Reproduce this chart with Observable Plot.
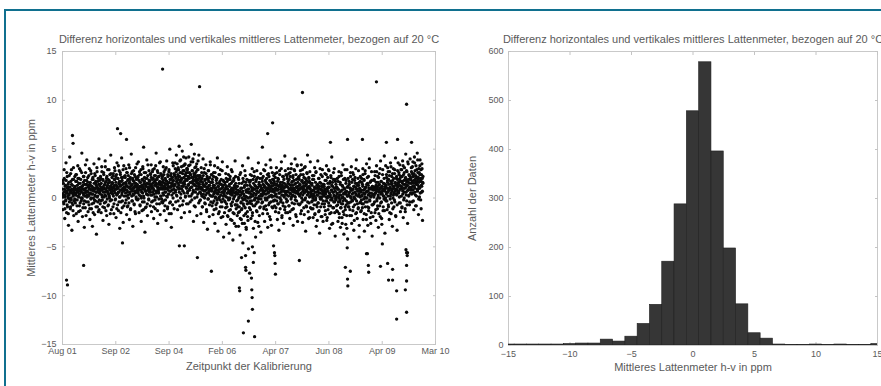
<!DOCTYPE html>
<html>
<head>
<meta charset="utf-8">
<script src="https://cdn.jsdelivr.net/npm/d3@7"></script>
<script src="https://cdn.jsdelivr.net/npm/@observablehq/plot@0.6"></script>
<style>
  html, body { margin: 0; padding: 0; background: #fff; overflow: hidden; }
  #wrap { position: relative; width: 881px; height: 386px; overflow: hidden; background: #fff; font-family: "Liberation Sans", Arial, sans-serif; }
  #frame { position: absolute; left: 4px; top: 9px; right: -10px; bottom: -10px; border-top: 2px solid #10708f; border-left: 2px solid #10708f; }
  #left { position: absolute; left: 0; top: 0; width: 450px; height: 386px; }
  #right { position: absolute; left: 440px; top: 0; width: 441px; height: 386px; overflow: hidden; }
  #left svg, #right svg { max-width: none !important; }
</style>
</head>
<body>
<div id="wrap"><div id="frame"></div><div id="left"></div><div id="right"></div></div>
<script>
// ---------- data ----------
const titleText = "Differenz horizontales und vertikales mittleres Lattenmeter, bezogen auf 20 °C";
const leftYLabel = "Mittleres Lattenmeter h-v in ppm";
const leftXLabel = "Zeitpunkt der Kalibrierung";
const rightYLabel = "Anzahl der Daten";
const rightXLabel = "Mittleres Lattenmeter h-v in ppm";

const dateTickLabels = ["Aug 01", "Sep 02", "Sep 04", "Feb 06", "Apr 07", "Jun 08", "Apr 09", "Mar 10"];
const sampleCount = 2400; // x-axis span in sample numbers
const yTicksLeft = [-15, -10, -5, 0, 5, 10, 15];

// h-v values (ppm) of the even-numbered calibrations, in sample order
const bandY = [
0.4,-1.2,1.8,0.2,-0.6,2.9,0.9,-2.1,0.1,1.3,-0.3,3.6,0.7,-1.5,0.5,2.2,-0.9,1.1,0.0,-2.8,1.6,0.3,-0.4,4.2,0.8,-1.1,2.5,0.6,-0.2,1.4,-3.3,0.9,1.9,-0.7,0.2,3.1,-1.8,0.5,1.0,-0.1,
1.2,-0.5,0.3,2.4,-1.6,0.8,1.7,-0.2,0.6,3.3,-2.4,1.0,0.1,2.0,-0.8,0.4,1.5,-1.3,2.8,0.7,-0.3,1.1,4.6,0.0,-1.9,1.3,0.5,2.2,-0.6,0.9,-3.0,1.8,0.2,-1.0,2.6,0.6,1.4,-0.4,3.9,0.3,
0.7,2.1,-1.4,0.2,1.3,-0.7,3.0,0.5,-2.2,1.6,0.9,-0.1,2.5,-1.1,0.4,1.2,-2.9,0.8,1.9,0.0,-0.5,3.5,1.0,-1.7,0.3,2.3,-0.3,1.5,0.6,-3.7,1.1,2.7,-0.9,0.2,1.7,-1.4,0.9,4.0,-0.2,0.6,
1.4,-0.6,2.2,0.8,-1.5,1.0,3.2,0.3,-0.2,1.9,-2.3,0.9,2.6,0.1,1.3,-1.0,0.6,3.8,1.6,-0.4,0.2,2.0,-1.8,1.1,0.7,2.9,-0.8,1.5,0.4,-2.7,1.8,0.0,2.4,-0.3,1.2,4.4,0.5,-1.2,1.0,2.1,
1.6,0.4,-0.9,2.5,1.1,-1.6,0.7,3.1,1.9,-0.2,0.9,2.2,-2.0,1.3,0.3,3.6,1.0,-0.7,2.0,0.6,-1.3,1.5,2.8,0.1,-3.1,1.2,2.4,0.8,-0.4,1.7,4.1,0.5,-1.0,2.1,1.4,-2.5,0.9,3.3,0.2,1.1,
0.8,2.3,-0.5,1.5,3.0,0.2,-1.7,1.2,2.6,0.6,-0.8,1.9,0.0,3.4,1.1,-2.2,1.6,0.4,2.1,-1.1,0.9,4.5,1.3,-0.3,2.7,0.7,-2.9,1.8,0.3,1.0,-0.6,2.4,1.5,-1.4,0.5,3.1,1.2,-0.1,2.0,0.8,
1.3,-0.2,2.1,0.5,3.7,1.0,-1.5,0.8,2.4,-0.7,1.6,0.2,2.9,-2.4,1.1,0.6,1.9,-0.4,3.2,0.9,-1.2,1.4,0.0,2.6,1.7,-3.5,0.7,2.0,1.2,-0.9,0.4,3.9,1.5,-1.8,2.3,0.3,1.0,-0.1,2.8,1.4,
1.8,0.6,-0.8,2.4,1.2,3.4,-1.4,1.0,0.3,2.7,1.5,-0.3,2.0,-2.1,0.8,3.0,1.7,0.1,-1.1,2.3,1.3,4.6,0.5,-0.6,1.9,2.8,-2.6,1.1,0.7,2.2,-0.1,1.6,3.6,0.9,-1.7,1.4,2.5,0.2,1.0,-0.4,
2.0,0.9,-0.5,1.6,3.2,0.3,2.4,-1.3,1.2,0.6,2.9,-0.2,1.8,-2.3,1.0,3.8,1.4,0.1,-0.9,2.2,1.5,0.4,2.7,-1.6,1.1,5.0,0.7,-0.4,1.9,2.5,-3.0,1.3,0.8,2.1,-0.7,1.7,3.3,0.5,1.2,-1.1,
2.4,1.3,3.6,0.6,-0.4,2.1,4.4,1.7,0.2,2.9,-1.2,1.5,3.1,2.2,0.9,5.3,1.0,-0.8,2.6,1.8,3.9,0.4,-2.0,2.0,1.2,4.8,2.5,0.7,-0.3,3.3,1.6,2.8,-1.5,1.4,3.5,0.1,2.3,4.1,1.1,-0.6,
1.9,3.0,0.5,2.6,-0.6,1.4,4.2,2.1,0.8,-1.4,3.4,1.6,2.4,0.2,5.5,1.1,-0.2,2.8,1.7,3.7,0.6,-2.4,2.2,1.3,4.5,0.0,2.5,-0.9,1.8,3.2,0.9,2.0,-1.8,1.5,2.9,0.4,3.8,1.2,-0.5,2.3,
1.1,-0.3,2.3,0.6,1.7,-1.6,3.1,0.9,0.2,2.0,-0.9,1.4,4.0,0.4,-2.5,1.2,2.6,0.0,1.8,-0.6,0.8,3.4,1.5,-1.2,0.5,2.2,-3.2,1.0,1.9,-0.1,2.8,0.7,-1.9,1.3,0.3,3.7,1.6,-0.4,0.9,2.4,
0.7,-0.8,1.9,0.2,-1.7,1.3,2.6,-0.3,0.5,3.3,-2.6,1.0,0.1,2.1,-1.1,0.8,1.5,-0.5,4.1,0.4,-3.4,1.2,0.0,2.4,-1.4,0.9,1.7,-0.2,2.9,0.3,-2.0,1.4,0.6,-0.9,3.7,1.1,-0.1,1.8,-4.0,0.5,
0.3,-1.5,1.6,-0.4,0.9,2.5,-2.7,0.1,1.2,-0.9,3.2,0.5,-1.9,1.9,-0.2,0.7,-3.6,1.4,0.0,2.2,-1.2,0.6,-0.6,2.9,1.0,-2.3,0.4,1.7,-4.3,0.8,-0.1,2.0,-1.6,1.1,0.2,3.8,-0.7,1.5,-2.9,0.6,
-0.3,1.2,-1.8,0.4,-0.9,2.1,-2.9,0.0,1.5,-1.4,0.7,-3.8,0.3,2.6,-0.5,-2.2,1.0,-1.1,0.5,3.3,-4.6,-0.2,1.7,-0.8,0.2,-2.6,1.3,-0.1,2.3,-1.6,0.8,-3.2,0.1,1.9,-0.6,-1.9,0.6,4.1,-5.2,0.9,
0.5,-1.0,1.6,-0.3,2.4,0.1,-2.1,1.1,-0.6,0.7,3.0,-1.5,0.3,1.9,-3.1,0.9,-0.2,2.2,-0.8,1.3,0.0,-4.0,1.7,0.4,-1.3,2.8,-0.4,1.0,-2.5,0.6,3.6,-0.1,1.4,-1.8,0.2,2.0,-0.9,1.2,-3.5,0.8,
0.9,-0.5,2.0,0.3,-1.6,1.4,0.6,2.9,-0.9,1.1,-2.4,0.4,1.8,-0.2,3.4,0.8,-1.2,1.5,0.0,2.4,-3.0,1.0,0.5,-0.7,2.2,1.3,-1.9,0.2,3.9,0.7,-0.4,1.6,-2.8,1.2,0.1,2.6,-1.0,0.9,1.9,-0.3,
0.6,1.7,-0.8,0.2,2.5,-1.4,1.0,0.4,3.1,-0.3,1.4,-2.2,0.8,2.0,-0.6,1.2,-3.3,0.5,2.8,0.0,-1.1,1.6,0.9,-0.2,3.7,0.3,-1.8,1.3,2.2,-0.5,0.7,-2.6,1.9,0.1,1.1,4.3,-0.9,0.6,-1.5,2.4,
1.2,-0.4,2.3,0.7,-1.5,1.5,3.0,0.2,-0.8,1.9,0.9,-2.1,2.6,0.5,1.3,-0.1,3.5,0.8,-1.2,1.7,0.3,2.1,-2.8,1.0,0.6,2.9,-0.6,1.4,4.0,0.1,-1.7,2.4,1.1,-0.3,0.7,3.3,-2.4,1.6,0.4,2.0,
0.9,2.2,-0.7,1.3,0.4,2.8,-1.6,1.0,3.4,0.0,-0.4,1.8,-2.5,0.7,2.4,1.2,-1.0,0.5,3.1,1.6,-0.2,2.0,-3.4,0.8,1.4,-0.9,2.6,0.3,4.4,1.1,-1.4,0.6,2.1,-0.5,1.7,-2.0,1.0,3.7,0.2,1.5,
0.4,-1.1,1.5,-0.3,2.3,0.0,-2.0,0.8,1.9,-0.7,0.2,3.1,-1.6,1.0,-0.2,2.6,-2.9,0.6,1.3,-0.9,0.3,3.8,-0.5,1.1,-1.4,2.0,0.5,-3.6,1.6,-0.1,0.9,2.4,-1.9,0.1,1.2,-0.6,2.9,0.7,-2.4,1.4,
0.2,1.4,-0.9,0.7,2.5,-1.7,0.4,-0.3,1.8,3.3,-2.3,0.9,0.0,2.1,-1.2,1.1,-0.5,2.8,0.5,-3.1,1.5,0.1,-0.8,2.3,-1.5,0.8,4.2,-0.2,1.2,-2.6,0.6,1.9,-1.0,0.3,3.0,-0.4,1.0,-3.9,1.7,0.0,
-0.2,1.1,-1.3,0.5,2.0,-0.7,-2.4,0.9,0.1,2.7,-1.6,0.3,-0.4,1.6,-3.0,0.7,-1.0,2.3,0.0,-2.0,1.3,-0.6,3.4,-1.4,0.4,-3.7,1.0,-0.1,2.0,-0.9,0.6,-2.7,1.8,-0.3,-1.8,2.9,0.2,-4.2,1.2,-0.5,
0.3,-0.9,1.7,0.6,-1.8,1.0,2.6,-0.4,0.1,3.2,-2.6,0.8,-0.2,1.9,-1.3,0.5,2.4,-3.3,1.2,0.0,-0.7,2.1,1.5,-1.6,0.4,3.9,-0.3,0.9,-2.1,1.3,0.2,-1.1,2.8,0.7,-4.0,1.6,-0.5,0.1,2.2,-1.4,
0.6,-1.3,2.0,0.2,-0.6,1.4,3.0,-2.2,0.8,-0.1,1.8,-3.4,0.4,2.5,-0.9,1.1,0.0,-1.7,3.5,0.7,-0.4,1.5,-2.8,0.3,2.2,-1.0,1.0,4.0,-0.2,0.5,-2.0,1.7,0.1,-1.5,2.7,0.9,-3.9,1.2,-0.7,0.4,
0.8,-0.6,1.9,0.3,2.7,-1.5,1.1,0.5,-2.3,1.6,3.3,-0.3,0.9,-1.1,2.2,0.1,-3.0,1.3,0.6,2.5,-0.8,1.0,-1.9,3.8,0.4,1.7,-0.4,-2.7,1.2,0.7,2.9,-1.3,0.2,1.5,-0.1,4.3,0.9,-3.6,1.4,0.0,
1.1,-0.3,2.4,0.6,-1.2,1.6,3.1,0.2,-0.7,1.9,0.8,-2.2,2.7,1.0,-0.1,3.6,0.4,-1.6,1.4,2.2,0.7,-2.9,1.8,0.0,3.0,1.2,-0.9,0.5,2.5,-0.4,1.5,4.1,-1.9,0.9,2.0,0.3,-3.3,1.3,2.8,0.6,
1.5,0.5,2.6,-0.5,1.9,3.4,0.9,-1.4,2.2,1.2,0.2,2.9,-0.9,1.7,3.8,0.7,-2.0,2.4,1.4,0.0,3.1,1.0,-1.1,2.0,4.5,0.6,1.8,-0.3,2.7,1.3,-2.6,0.8,3.5,1.6,0.3,2.3,-0.7,1.1,4.0,1.9,
2.0,0.8,3.1,1.5,-0.4,2.5,1.2,3.7,0.5,2.2,-1.2,1.8,4.2,1.0,2.8,0.3,1.6,3.3,-0.8,2.1,1.4,4.6,0.7,2.6,1.9,-1.7,3.0,1.1,0.1,2.4,3.9,1.7,-0.2,2.9,1.3,0.6,3.5,2.0,-2.3,1.5
];

// h-v values (ppm) of the odd-numbered calibrations, in sample order
const bandY2 = [
0.9,0.1,1.5,-0.4,0.6,2.0,0.3,-1.1,1.2,0.7,-0.2,1.8,0.5,2.6,-0.7,1.0,0.2,1.4,-1.6,0.8,0.4,2.3,-0.1,1.1,0.6,-0.9,1.7,0.0,2.9,0.5,-0.5,1.3,0.8,-1.3,0.3,1.9,0.7,-0.3,1.0,2.2,
1.0,-0.2,1.7,0.5,2.4,0.9,-0.8,1.3,0.2,2.0,0.7,-1.4,1.5,0.4,3.0,0.8,-0.5,1.1,1.9,0.0,0.6,2.6,-0.1,1.2,0.9,-1.0,1.6,0.3,2.2,0.8,-0.3,1.4,0.5,3.4,1.0,-1.8,0.7,1.8,0.1,1.3,
0.6,1.6,-0.4,1.1,2.3,0.3,0.9,-1.1,1.4,0.5,2.8,0.0,1.2,0.8,-0.6,1.9,0.4,2.1,-1.5,1.0,0.7,1.5,-0.2,2.5,0.9,0.2,1.7,-0.9,1.3,0.6,3.1,0.1,1.0,-0.4,2.0,0.8,1.4,-1.2,0.5,1.8,
1.2,0.4,2.0,-0.3,1.5,0.8,2.7,0.1,1.1,-0.9,1.8,0.6,2.4,1.0,-0.5,1.4,0.3,3.2,0.9,-1.3,1.7,0.7,2.2,-0.1,1.3,0.5,1.9,-0.7,1.0,2.9,0.2,1.6,0.8,-1.6,1.2,2.5,0.6,-0.2,1.4,0.9,
1.5,0.7,2.3,0.2,1.1,-0.6,1.9,1.3,2.8,0.5,-0.1,1.6,0.9,2.4,-1.1,1.2,0.4,2.0,1.0,3.3,0.6,-0.4,1.7,1.4,0.1,2.6,0.8,-1.5,1.3,2.1,0.3,1.8,-0.3,1.0,2.9,0.7,1.5,-0.8,1.1,2.2,
1.0,2.1,0.5,1.6,-0.2,1.3,2.6,0.8,-0.9,1.8,0.3,2.3,1.1,-0.5,1.5,3.1,0.6,1.9,-1.2,1.2,0.9,2.5,0.2,1.4,-0.3,2.0,1.0,0.4,2.8,1.7,-0.7,1.2,0.7,2.2,-1.6,1.5,0.1,1.9,1.1,3.5,
1.4,0.6,2.2,-0.1,1.0,1.8,0.3,2.7,1.2,-0.8,1.6,0.8,2.4,0.0,1.3,-1.3,1.9,0.5,3.0,1.1,0.2,1.7,-0.4,2.1,0.9,1.4,-1.0,2.6,0.7,1.2,0.4,2.0,-0.6,1.5,3.4,0.8,1.1,-0.2,1.8,0.6,
1.7,0.8,2.5,0.3,1.4,2.1,-0.4,1.2,1.9,0.6,2.9,1.0,-0.9,1.6,0.4,2.3,1.3,-0.2,1.8,3.3,0.7,1.5,0.1,2.0,1.1,-1.3,2.6,0.9,1.4,0.5,2.2,-0.6,1.7,1.0,3.7,0.2,1.3,2.4,-0.1,1.6,
1.3,2.2,0.5,1.8,-0.3,1.1,2.7,0.9,1.5,-0.8,2.0,0.6,1.4,3.1,0.2,1.7,1.0,-1.1,2.4,0.8,1.2,0.4,2.9,1.6,-0.5,1.9,0.7,2.3,1.1,-1.6,1.5,0.3,2.1,1.3,3.6,0.0,1.8,0.9,2.5,1.4,
2.3,1.4,3.0,0.8,2.0,2.7,0.3,1.7,3.5,1.1,2.4,-0.3,1.9,2.9,1.3,0.6,2.2,3.8,1.6,0.0,2.6,1.8,3.2,0.9,2.0,-0.7,1.5,2.8,1.2,4.2,2.1,0.5,1.7,3.4,2.4,0.2,1.9,2.6,1.0,3.0,
1.8,2.9,0.7,2.2,1.3,3.3,0.2,2.0,2.6,1.0,-0.4,2.4,1.6,3.7,1.1,2.1,0.4,2.8,1.5,4.0,0.8,1.9,2.5,-0.8,1.4,3.1,2.2,0.6,1.7,2.7,1.2,3.5,0.1,2.3,1.8,2.9,0.9,1.5,4.4,2.0,
1.4,0.6,2.2,-0.2,1.1,1.8,0.4,2.6,1.0,-0.9,1.6,0.8,2.3,0.1,1.3,3.0,0.7,-0.5,1.9,1.2,0.3,2.5,1.5,-1.4,0.9,2.0,1.1,-0.1,2.8,0.5,1.7,1.3,-0.7,2.1,0.8,3.4,1.0,0.2,1.6,2.4,
0.9,0.2,1.6,-0.5,1.1,2.2,0.4,-1.2,1.3,0.7,2.6,0.0,1.0,-0.7,1.8,0.5,2.0,-0.2,0.8,3.1,1.2,-1.6,0.6,1.5,0.1,2.4,0.9,-0.9,1.4,0.3,1.9,-0.4,1.0,2.8,0.6,-1.9,1.3,0.2,1.7,0.8,
0.7,-0.3,1.4,0.2,-1.0,1.1,2.0,-0.6,0.5,1.7,-1.8,0.9,0.0,2.4,0.6,-1.3,1.2,-0.1,1.9,0.4,-2.2,0.8,1.5,-0.8,0.3,2.7,-0.4,1.0,-1.5,0.6,1.8,0.1,-2.6,1.3,0.5,-0.7,2.2,0.9,-1.1,0.4,
0.5,-0.7,1.2,-0.2,0.8,-1.5,1.9,0.1,-0.9,0.6,2.4,-2.1,0.3,1.0,-0.4,-1.2,1.5,0.0,-2.6,0.7,2.0,-0.6,0.4,-1.8,1.1,-0.1,2.8,-1.0,0.2,1.6,-3.0,0.6,-0.3,1.3,-1.4,0.9,-2.3,0.0,1.8,-0.5,
0.6,-0.5,1.3,0.1,-1.2,1.8,0.4,-0.3,2.3,0.8,-1.8,1.0,0.2,-0.8,1.5,0.5,2.7,-0.2,0.9,-2.4,1.2,0.3,-0.6,1.9,0.7,-1.4,0.0,2.1,1.1,-0.4,0.6,-2.9,1.6,0.2,-1.0,1.3,0.8,2.5,-0.1,0.4,
1.0,0.2,1.7,-0.4,0.8,2.2,0.5,-1.1,1.3,0.7,2.8,0.0,1.1,-0.8,1.6,0.4,2.0,-0.2,0.9,-1.6,1.4,0.6,2.5,0.1,1.2,-0.5,1.8,0.8,-2.2,1.0,3.1,0.3,1.5,-0.9,0.7,1.9,0.2,-0.3,1.3,2.3,
0.7,1.5,-0.2,1.0,2.1,0.4,-1.0,1.3,0.8,2.6,0.1,1.7,-0.6,0.9,1.9,-1.5,0.5,1.2,2.4,0.0,1.4,-0.4,0.6,3.0,1.1,-2.0,0.8,1.6,0.3,-0.8,2.2,1.0,0.2,1.5,-1.2,0.7,2.8,0.4,1.3,-0.1,
1.2,0.3,2.0,-0.3,1.1,1.7,0.6,2.5,-0.8,1.4,0.9,-1.4,2.2,0.4,1.0,3.0,0.1,1.6,-0.5,1.3,0.7,2.3,-1.1,1.0,1.8,0.2,2.8,0.8,-0.2,1.5,0.5,-1.9,1.9,1.1,3.4,0.6,1.2,-0.6,2.1,0.9,
0.8,1.9,0.2,1.4,-0.6,1.0,2.4,0.5,-1.3,1.7,1.1,2.9,0.3,-0.2,1.5,0.9,2.1,-1.7,1.2,0.6,3.2,0.0,1.3,-0.8,1.8,0.7,2.5,1.0,-0.4,1.6,0.4,-2.1,2.0,1.2,0.1,2.7,0.9,-1.0,1.5,0.5,
0.7,-0.4,1.3,0.2,1.9,-1.1,0.8,0.4,2.3,-0.2,1.1,-1.7,0.6,1.6,0.0,2.7,-0.7,1.0,0.3,-2.3,1.4,0.7,-0.5,2.0,0.9,-1.3,1.2,0.1,3.0,0.5,-0.9,1.5,-0.1,0.8,-1.9,2.2,0.4,1.1,-0.3,0.6,
0.4,1.2,-0.6,0.9,1.8,-1.3,0.6,0.1,2.4,-0.3,1.0,-2.0,0.7,1.5,0.2,2.9,-0.8,1.1,0.5,-1.6,1.7,0.3,-0.2,2.1,0.8,-2.7,1.3,0.0,1.6,-1.0,0.6,2.6,-0.4,1.0,0.2,-1.5,1.9,0.7,-0.1,1.4,
0.2,-0.8,1.1,0.4,-1.4,0.9,1.7,-0.4,0.0,2.2,-2.0,0.6,-0.2,1.4,-1.0,0.3,2.6,-0.6,0.8,-2.6,1.2,0.1,-0.3,1.9,0.5,-1.7,0.9,-0.1,2.9,-1.2,0.4,1.5,-0.7,0.7,-3.1,1.1,0.2,-0.5,2.0,-0.9,
0.5,-0.5,1.4,0.2,-1.2,1.0,2.2,0.0,0.8,-1.8,1.6,0.4,-0.3,2.6,0.9,-0.9,1.2,0.1,-2.3,1.8,0.6,-0.1,1.1,3.0,0.3,-1.5,0.9,1.5,-0.6,0.7,2.0,-1.0,1.3,0.4,-2.8,1.0,0.2,1.7,-0.4,0.8,
0.8,-0.2,1.6,0.3,-1.0,1.2,2.4,-0.6,0.5,1.9,-1.6,0.9,0.1,2.8,-0.4,1.1,0.6,-2.2,1.4,0.0,2.1,-0.9,0.7,1.3,-1.3,0.4,3.1,0.9,-0.3,1.6,0.2,-2.6,1.0,0.5,1.8,-0.7,1.2,0.3,-1.9,0.9,
1.0,0.1,1.8,-0.4,0.9,2.3,0.5,-1.2,1.3,0.7,2.7,-0.1,1.1,-0.8,1.6,0.3,2.1,-1.6,0.8,1.4,0.0,3.0,1.0,-0.5,1.7,0.6,-2.1,1.2,0.4,2.4,0.9,-0.9,1.5,0.2,2.0,-1.3,0.7,1.1,-0.2,3.3,
1.3,0.4,2.1,-0.3,1.0,1.8,0.6,2.7,-0.9,1.4,0.8,2.3,-1.5,1.1,0.2,1.7,3.2,0.5,-0.5,1.5,0.9,2.5,-1.1,1.2,0.3,2.0,1.0,-0.2,2.9,0.7,1.6,-1.8,1.3,0.4,2.2,0.8,-0.7,1.9,1.1,3.6,
1.6,0.7,2.4,0.1,1.3,2.0,-0.5,1.7,2.9,0.9,1.2,-1.0,2.2,1.5,0.4,3.3,1.0,-0.2,1.8,2.6,0.6,1.4,-1.4,2.1,1.1,0.3,2.8,1.6,-0.7,1.3,3.7,0.8,1.9,0.2,2.4,1.0,-0.4,1.5,2.2,0.5,
1.9,1.0,2.7,0.4,1.7,3.2,0.8,2.2,-0.3,1.5,2.5,1.2,3.6,0.6,1.9,-0.8,2.3,1.4,0.2,2.9,1.7,0.9,3.9,1.3,2.1,-0.1,1.6,2.6,1.0,3.3,0.5,2.0,1.8,-1.1,2.4,1.2,3.0,0.7,1.6,2.2
];

// outlying calibrations: sample number and value (ppm)
const outlierSample = [644,882,354,1352,1544,2020,2214,64,68,374,412,522,1320,1834,1930,2084,2156,2246,1724,1286,
  26,32,136,386,752,784,868,958,1152,1178,1180,1204,1216,1138,1140,1218,1220,1222,1196,1164,1236,1228,1234,1222,1178,1364,1366,1368,1370,1358,
  1524,1820,1852,1834,1836,1832,1956,1968,1970,1962,2046,2058,2092,2124,2098,2124,2150,2150,2210,2214,2218,2214,2214,2206,2214,2220];
const outlierY = [13.2,11.4,7.1,7.7,10.8,11.9,9.6,6.4,5.6,6.6,6.0,5.2,6.6,6.0,6.0,5.7,6.0,5.7,5.7,5.2,
  -8.4,-8.9,-6.9,-4.6,-4.9,-4.9,-6.1,-7.5,-6.1,-7.1,-7.4,-7.7,-8.2,-9.2,-9.5,-9.4,-10.2,-11.4,-12.6,-13.8,-14.2,-6.6,-5.6,-5.0,-5.9,-5.6,-5.9,-6.7,-7.8,-4.9,
  -6.4,-7.1,-7.5,-8.3,-9.0,-5.1,-5.7,-6.9,-7.6,-5.7,-7.0,-4.7,-6.7,-7.3,-8.4,-8.4,-9.5,-12.4,-5.3,-5.6,-5.9,-6.9,-8.5,-9.4,-11.7,-5.6];

// histogram: bin centres (ppm) and counts
const binCenters = [-15,-14,-13,-12,-11,-10,-9,-8,-7,-6,-5,-4,-3,-2,-1,0,1,2,3,4,5,6,7,8,9,10,11,12,13,14,15];
const binCounts  = [2,2,2,2,2,3,4,4,12,8,18,44,83,171,288,478,578,396,198,84,25,14,2,1,1,2,1,2,1,1,3];
const xTicksRight = [-15, -10, -5, 0, 5, 10, 15];
const yTicksRight = [0, 100, 200, 300, 400, 500, 600];

// ---------- build ----------
const font = "\"Liberation Sans\", Arial, Helvetica, sans-serif";
const textGrey = "#5a5a5a";
const axisGrey = "#c9c9c9";
const tickGrey = "#c4c4c4";

const scatter = bandY.map((y, i) => ({x: 2 * i + 0.5, y}))
  .concat(bandY2.map((y, i) => ({x: 2 * i + 1.5, y})))
  .concat(outlierSample.map((s, i) => ({x: s, y: outlierY[i]})));
const dateTickPos = dateTickLabels.map((d, i) => i * sampleCount / (dateTickLabels.length - 1));

// inward MATLAB-style tick marks on all four sides
function innerTicks(xt, yt) {
  return [
    Plot.axisX({anchor: "bottom", ticks: xt, tickSize: -3, text: null, label: null, stroke: tickGrey}),
    Plot.axisX({anchor: "top", ticks: xt, tickSize: -3, text: null, label: null, stroke: tickGrey}),
    Plot.axisY({anchor: "left", ticks: yt, tickSize: -3, text: null, label: null, stroke: tickGrey}),
    Plot.axisY({anchor: "right", ticks: yt, tickSize: -3, text: null, label: null, stroke: tickGrey})
  ];
}

const leftPlot = Plot.plot({
  width: 450, height: 386,
  marginLeft: 62, marginRight: 15, marginTop: 51, marginBottom: 42,
  style: {fontFamily: font, fontSize: "9px", color: textGrey, background: "transparent"},
  x: {domain: [0, sampleCount], axis: null},
  y: {domain: [-15, 15], axis: null},
  marks: [
    Plot.frame({stroke: axisGrey}),
    ...innerTicks(dateTickPos, yTicksLeft),
    Plot.axisX({ticks: dateTickPos, tickFormat: (d, i) => dateTickLabels[i], tickSize: 0, tickPadding: 3, label: null, fill: textGrey}),
    Plot.axisY({ticks: yTicksLeft, tickSize: 0, tickPadding: 6, label: null, fill: textGrey}),
    Plot.dot(scatter, {x: "x", y: "y", r: 1.65, fill: "#0a0a0a", stroke: null, clip: true}),
    Plot.text([titleText], {frameAnchor: "top", dy: -9, lineAnchor: "bottom", fontSize: 11, fill: textGrey}),
    Plot.text([leftXLabel], {frameAnchor: "bottom", dy: 18, lineAnchor: "top", fontSize: 11, fill: textGrey}),
    Plot.text([leftYLabel], {frameAnchor: "left", dx: -31, rotate: -90, textAnchor: "middle", fontSize: 11, fill: textGrey})
  ]
});
document.getElementById("left").appendChild(leftPlot);

const hist = binCenters.map((c, i) => ({x1: c - 0.5, x2: c + 0.5, count: binCounts[i]}));

const rightPlot = Plot.plot({
  width: 441, height: 386,
  marginLeft: 68, marginRight: 4, marginTop: 51, marginBottom: 41,
  style: {fontFamily: font, fontSize: "9px", color: textGrey, background: "transparent", overflow: "hidden"},
  x: {domain: [-15, 15], axis: null},
  y: {domain: [0, 600], axis: null},
  marks: [
    Plot.frame({stroke: axisGrey}),
    ...innerTicks(xTicksRight, yTicksRight),
    Plot.rectY(hist, {x1: "x1", x2: "x2", y: "count", fill: "#363636", stroke: "#1e1e1e", strokeWidth: 0.6, inset: 0, clip: true}),
    Plot.axisX({ticks: xTicksRight, tickSize: 0, tickPadding: 5, label: null, fill: textGrey}),
    Plot.axisY({ticks: yTicksRight, tickSize: 0, tickPadding: 5, label: null, fill: textGrey}),
    Plot.text([titleText], {frameAnchor: "top", dy: -9, lineAnchor: "bottom", fontSize: 11, fill: textGrey}),
    Plot.text([rightXLabel], {frameAnchor: "bottom", dy: 18, lineAnchor: "top", fontSize: 11, fill: textGrey}),
    Plot.text([rightYLabel], {frameAnchor: "left", dx: -36, rotate: -90, textAnchor: "middle", fontSize: 11, fill: textGrey})
  ]
});
document.getElementById("right").appendChild(rightPlot);
</script>
</body>
</html>
